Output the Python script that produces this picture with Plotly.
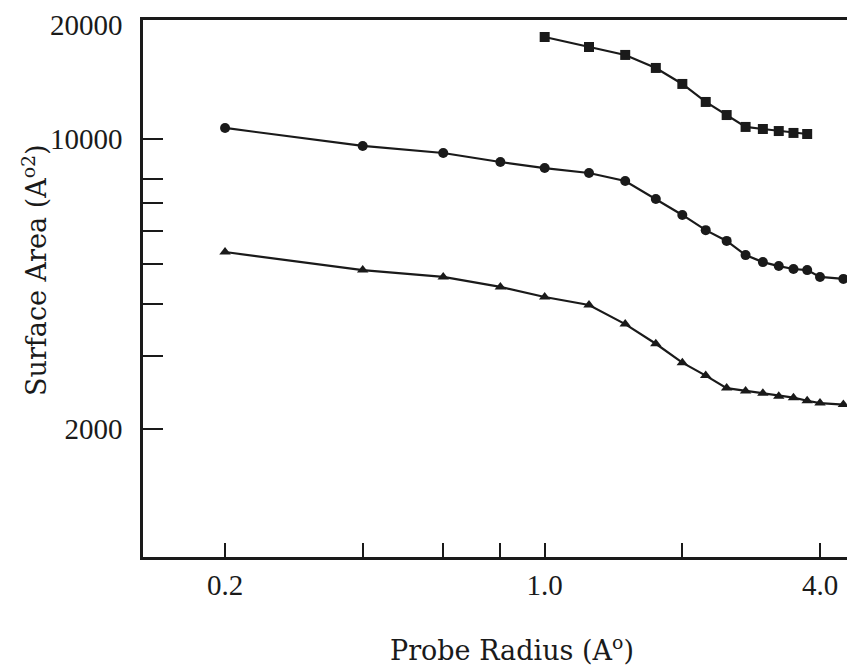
import plotly.graph_objects as go

# ---- data ----
radius_circ = [0.2, 0.4, 0.6, 0.8, 1.0, 1.25, 1.5, 1.75, 2.0, 2.25, 2.5, 2.75, 3.0, 3.25, 3.5, 3.75, 4.0, 4.5]
area_circ = [10630, 9620, 9250, 8800, 8510, 8280, 7920, 7170, 6560, 6030, 5680, 5250, 5050, 4940, 4860, 4830, 4650, 4600]

radius_tri = [0.2, 0.4, 0.6, 0.8, 1.0, 1.25, 1.5, 1.75, 2.0, 2.25, 2.5, 2.75, 3.0, 3.25, 3.5, 3.75, 4.0, 4.5]
area_tri = [5340, 4830, 4650, 4400, 4160, 3980, 3580, 3210, 2890, 2690, 2510, 2470, 2440, 2400, 2380, 2340, 2310, 2290]

radius_sq = [1.0, 1.25, 1.5, 1.75, 2.0, 2.25, 2.5, 2.75, 3.0, 3.25, 3.5, 3.75]
area_sq = [17610, 16660, 15940, 14830, 13570, 12280, 11420, 10690, 10570, 10450, 10340, 10280]

x_labeled_ticks = [0.2, 1.0, 4.0]
x_labels = ["0.2", "1.0", "4.0"]
x_minor_ticks = [0.4, 0.6, 0.8, 2.0]
y_labeled_ticks = [2000, 10000]
y_labels = ["2000", "10000"]
y_minor_ticks = [3000, 4000, 5000, 6000, 7000, 8000]
y_top_label = "20000"

INK = "#1a1a1a"
TICKFONT = dict(family="Liberation Serif", size=29, color=INK)
TITLEFONT = dict(family="DejaVu Serif", size=27, color=INK)

fig = go.Figure()
for xs, ys, sym in [(radius_sq, area_sq, "square"),
                    (radius_circ, area_circ, "circle"),
                    (radius_tri, area_tri, "triangle-up")]:
    fig.add_trace(go.Scatter(
        x=xs, y=ys, mode="lines+markers",
        line=dict(color=INK, width=2.2),
        marker=dict(symbol=sym, size=10, color=INK),
        showlegend=False, cliponaxis=False,
    ))

fig.update_layout(
    width=847, height=659,
    margin=dict(l=135, r=0, t=12, b=110),
    paper_bgcolor="white", plot_bgcolor="white",
    xaxis=dict(
        type="log", range=[-0.8784, 0.6786],
        tickmode="array", tickvals=x_labeled_ticks, ticktext=x_labels,
        ticks="inside", ticklen=14, tickwidth=2, tickcolor=INK,
        minor=dict(tickmode="array", tickvals=x_minor_ticks, ticks="inside",
                   ticklen=14, tickwidth=2, tickcolor=INK, showgrid=False),
        showline=True, linecolor=INK, linewidth=2.5, mirror=True,
        showgrid=False, zeroline=False, tickfont=TICKFONT,
        ticklabelstandoff=0,
    ),
    yaxis=dict(
        type="log", range=[2.9926, 4.2867],
        tickmode="array", tickvals=y_labeled_ticks, ticktext=y_labels,
        ticks="inside", ticklen=20, tickwidth=2, tickcolor=INK,
        minor=dict(tickmode="array", tickvals=y_minor_ticks, ticks="inside",
                   ticklen=20, tickwidth=2, tickcolor=INK, showgrid=False),
        showline=True, linecolor=INK, linewidth=2.5,
        showgrid=False, zeroline=False, tickfont=TICKFONT,
        ticklabelstandoff=12,
    ),
    annotations=[
        dict(text=y_top_label, xref="paper", yref="paper",
             x=-0.0253, y=0.9907, xanchor="right", yanchor="middle",
             showarrow=False, font=TICKFONT),
        dict(text="Probe Radius (A<sup>o</sup>)", xref="paper", yref="paper",
             x=0.518, y=-0.1695, xanchor="center", yanchor="middle",
             showarrow=False, font=TITLEFONT),
        dict(text="Surface Area (A<sup>o2</sup>)", xref="paper", yref="paper",
             x=-0.1517, y=0.5345, xanchor="center", yanchor="middle",
             textangle=-90, showarrow=False, font=TITLEFONT),
    ],
)

fig.write_html("out.html")
